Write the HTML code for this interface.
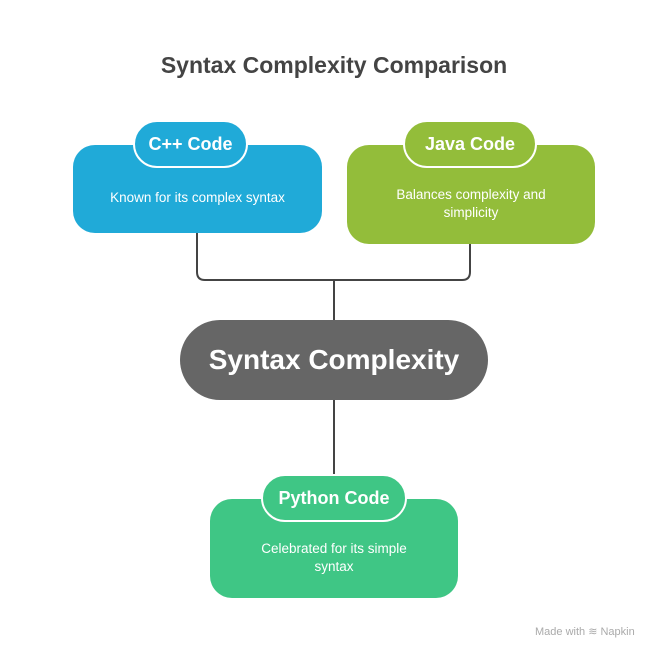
<!DOCTYPE html>
<html><head><style>
body{margin:0;width:668px;height:660px;background:#fff;position:relative;font-family:"Liberation Sans",sans-serif;overflow:hidden}
.a{position:absolute;box-sizing:border-box}
.box{border-radius:22px;color:#fff;font-size:13.5px;text-align:center;display:flex;align-items:center;justify-content:center;line-height:18px}
.pill{border:2px solid #fff;border-radius:24px;color:#fff;font-weight:bold;font-size:18px;display:flex;align-items:center;justify-content:center}
</style></head><body>
<div class="a" style="left:0;top:52px;width:668px;text-align:center;font-size:23px;font-weight:bold;color:#444">Syntax Complexity Comparison</div>
<svg class="a" style="left:0;top:0" width="668" height="660"><g fill="none" stroke="#444" stroke-width="2">
<path d="M197 233 V272 Q197 280 205 280 H462 Q470 280 470 272 V244"/>
<path d="M334 280 V320"/><path d="M334 400 V476"/></g></svg>
<div class="a box" style="left:73px;top:145px;width:249px;height:88px;background:#20aad8;padding-top:18px">Known for its complex syntax</div>
<div class="a pill" style="left:133px;top:120px;width:115px;height:48px;background:#20aad8">C++ Code</div>
<div class="a box" style="left:347px;top:145px;width:248px;height:99px;background:#93bd3a;padding-top:18px">Balances complexity and<br>simplicity</div>
<div class="a pill" style="left:403px;top:120px;width:134px;height:48px;background:#93bd3a">Java Code</div>
<div class="a" style="left:180px;top:320px;width:308px;height:80px;border-radius:40px;background:#666;color:#fff;font-weight:bold;font-size:28px;display:flex;align-items:center;justify-content:center">Syntax Complexity</div>
<div class="a box" style="left:210px;top:499px;width:248px;height:99px;background:#3fc685;padding-top:18px">Celebrated for its simple<br>syntax</div>
<div class="a pill" style="left:261px;top:474px;width:146px;height:48px;background:#3fc685">Python Code</div>
<div class="a" style="left:535px;top:625px;font-size:11px;color:#aaa">Made with ≋ Napkin</div>
</body></html>
